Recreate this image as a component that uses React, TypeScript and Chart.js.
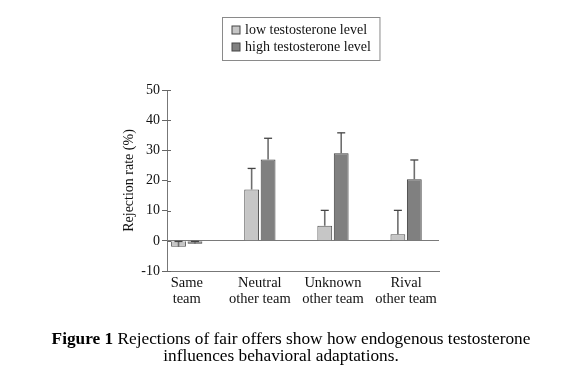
import React, { useEffect, useRef } from "react";
import { Chart, registerables } from "chart.js";

Chart.register(...registerables);

const categories: string[][] = [
  ["Same", "team"],
  ["Neutral", "other team"],
  ["Unknown", "other team"],
  ["Rival", "other team"],
];
const seriesNames = ["low testosterone level", "high testosterone level"];
const lowValues = [-2, 17, 5, 2.2];
const lowErrors = [1.8, 7, 5.1, 7.9];
const highValues = [-1, 27, 29, 20.4];
const highErrors = [0.8, 7, 6.8, 6.4];
const yTicks = [-10, 0, 10, 20, 30, 40, 50];

const FONT = "'Liberation Serif', 'Times New Roman', serif";

const errorBarPlugin = {
  id: "errorBars",
  afterDatasetsDraw(chart: any) {
    const ctx = chart.ctx;
    const y = chart.scales.y;
    chart.data.datasets.forEach((ds: any, di: number) => {
      const meta = chart.getDatasetMeta(di);
      const errs: number[] = ds.errors || [];
      meta.data.forEach((bar: any, i: number) => {
        const v = ds.data[i].y;
        const e = errs[i];
        if (e == null) return;
        const y0 = y.getPixelForValue(v);
        const y1 = y.getPixelForValue(v + e);
        ctx.save();
        ctx.strokeStyle = "#6e6e6e";
        ctx.lineWidth = 1.6;
        ctx.beginPath();
        ctx.moveTo(bar.x, y0);
        ctx.lineTo(bar.x, y1);
        ctx.stroke();
        ctx.strokeStyle = "#444";
        ctx.lineWidth = 1.3;
        ctx.beginPath();
        ctx.moveTo(bar.x - 4, y1);
        ctx.lineTo(bar.x + 4, y1);
        ctx.stroke();
        ctx.restore();
      });
    });
  },
};

const yTickCrossPlugin = {
  id: "yTickCross",
  afterDraw(chart: any) {
    const ctx = chart.ctx;
    const y = chart.scales.y;
    const x0 = chart.chartArea.left;
    ctx.save();
    ctx.strokeStyle = "#666";
    ctx.lineWidth = 1;
    y.ticks.forEach((t: any) => {
      const py = Math.round(y.getPixelForValue(t.value)) + 0.5;
      ctx.beginPath();
      ctx.moveTo(x0, py);
      ctx.lineTo(x0 + 4, py);
      ctx.stroke();
    });
    ctx.restore();
  },
};

const legendBoxPlugin = {
  id: "legendBox",
  afterDraw(chart: any) {
    const ctx = chart.ctx;
    ctx.save();
    ctx.font = `14px ${FONT}`;
    const ds = chart.data.datasets;
    const maxW = Math.max(...ds.map((d: any) => ctx.measureText(d.label).width));
    const sq = 8;
    const w = 9.5 + sq + 5 + maxW + 9;
    const cx = (chart.chartArea.left + chart.chartArea.right) / 2 - 2;
    const left = Math.round(cx - w / 2) + 0.5;
    const top = 17.5;
    const h = 43;
    ctx.strokeStyle = "#8a8a8a";
    ctx.lineWidth = 1;
    ctx.strokeRect(left, top, w, h);
    ds.forEach((d: any, i: number) => {
      const rowY = 30 + i * 17;
      ctx.fillStyle = d.backgroundColor;
      ctx.fillRect(left + 9.5, rowY - sq / 2, sq, sq);
      ctx.strokeStyle = "#444";
      ctx.strokeRect(left + 9.5, rowY - sq / 2, sq, sq);
      ctx.fillStyle = "#111";
      ctx.textBaseline = "middle";
      ctx.textAlign = "left";
      ctx.fillText(d.label, left + 9.5 + sq + 5, rowY + 0.5);
    });
    ctx.restore();
  },
};

export default function App() {
  const ref = useRef<HTMLCanvasElement | null>(null);

  useEffect(() => {
    document.body.style.margin = "0";
    if (!ref.current) return;
    const chart = new Chart(ref.current, {
      type: "bar",
      data: {
        datasets: [
          {
            label: seriesNames[0],
            data: lowValues.map((v, i) => ({ x: i, y: v })),
            errors: lowErrors,
            backgroundColor: "#c6c6c6",
            borderColor: "#505050",
            borderWidth: 1,
            categoryPercentage: 0.45,
            barPercentage: 0.9,
          } as any,
          {
            label: seriesNames[1],
            data: highValues.map((v, i) => ({ x: i, y: v })),
            errors: highErrors,
            backgroundColor: "#808080",
            borderColor: "#404040",
            borderWidth: 1,
            categoryPercentage: 0.45,
            barPercentage: 0.9,
          } as any,
        ],
      },
      options: {
        animation: false,
        responsive: false,
        maintainAspectRatio: false,
        layout: { padding: { top: 90, left: 0, right: 123, bottom: 72 } },
        plugins: { legend: { display: false }, tooltip: { enabled: false } },
        scales: {
          x: {
            type: "linear",
            offset: false,
            min: -0.27,
            max: 3.45,
            grid: { display: false, offset: false },
            border: { display: true, color: "#777", width: 1 },
            ticks: {
              stepSize: 1,
              includeBounds: false,
              autoSkip: false,
              maxRotation: 0,
              minRotation: 0,
              padding: -3,
              color: "#111",
              font: { family: FONT, size: 14.5, lineHeight: 1.05 },
              callback: (v: any) =>
                Number.isInteger(v) && categories[v] ? categories[v] : "",
            },
            afterFit: (s: any) => {
              s.height = 40;
            },
          },
          y: {
            min: -10,
            max: 50,
            afterBuildTicks: (s: any) => {
              s.ticks = yTicks.map((v) => ({ value: v }));
            },
            grid: {
              drawOnChartArea: true,
              drawTicks: true,
              tickLength: 5,
              tickColor: "#666",
              color: (c: any) =>
                c.tick && c.tick.value === 0 ? "#7a7a7a" : "rgba(0,0,0,0)",
            },
            border: { display: true, color: "#777", width: 1 },
            ticks: {
              padding: 2,
              color: "#111",
              font: { family: FONT, size: 14 },
            },
            title: {
              display: true,
              text: "Rejection rate (%)",
              color: "#111",
              font: { family: FONT, size: 14 },
              padding: { top: 121, bottom: 0 },
            },
            afterFit: (s: any) => {
              s.width = 167;
            },
          },
        },
      } as any,
      plugins: [errorBarPlugin, yTickCrossPlugin, legendBoxPlugin],
    });
    return () => chart.destroy();
  }, []);

  return (
    <div style={{ position: "relative", width: 562, height: 383, background: "#fff" }}>
      <canvas ref={ref} width={562} height={383} style={{ position: "absolute", left: 0, top: 0 }} />
      <div
        style={{
          position: "absolute",
          left: 0,
          top: 330,
          width: 562,
          textAlign: "center",
          fontFamily: FONT,
          fontSize: 17.3,
          lineHeight: "17px",
          color: "#000",
        }}
      >
        <div style={{ paddingLeft: 20, whiteSpace: "nowrap" }}>
          <b>Figure 1</b> Rejections of fair offers show how endogenous testosterone
        </div>
        <div>influences behavioral adaptations.</div>
      </div>
    </div>
  );
}
